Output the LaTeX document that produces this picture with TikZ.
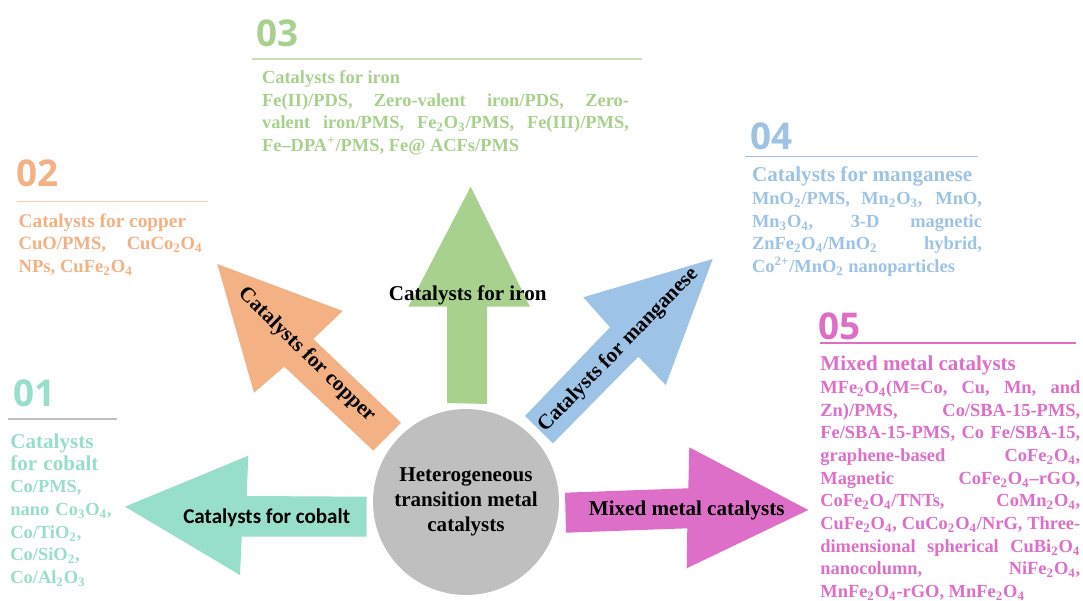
\documentclass[tikz,border=0pt]{standalone}
\usepackage{fontspec}
\setmainfont{Liberation Serif}
\newfontfamily\numfont{Open Sans}
\newfontfamily\labfont{Carlito}
\usepackage{tikz}
\usetikzlibrary{positioning}

\definecolor{cobalt}{HTML}{98DFCB}
\definecolor{copper}{HTML}{F4B183}
\definecolor{copperline}{HTML}{F8CBAD}
\definecolor{iron}{HTML}{A9D18E}
\definecolor{ironline}{HTML}{C5E0B4}
\definecolor{mangan}{HTML}{9DC3E6}
\definecolor{mixed}{HTML}{DD6FC8}
\definecolor{hubgray}{HTML}{BFBFBF}

\newcommand{\ssub}[1]{\textsubscript{#1}}

\begin{document}
\begin{tikzpicture}[
    x=0.02cm, y=-0.02cm,
    font=\bfseries,
    num/.style={
		anchor=base west,
		inner sep=0pt,
		font=\numfont\bfseries\fontsize{21}{21}\selectfont
	},
	info/.style={
		anchor=north west,
		inner sep=0pt,
		align=justify,
		font=\bfseries\fontsize{10.5}{12.9}\selectfont
	},
	arrowlabel/.style={
		inner sep=0pt,
		font=\bfseries\fontsize{12}{14}\selectfont
	},
	rule/.style={
		line width=0.8pt
	}
  ]
  \useasboundingbox (0,0) rectangle (1083,601);
  \fill [white] (0,0) rectangle (1083,601);

    % We start by placing the arrows
  \fill [cobalt] (366.7,496.7) -- (246.7,496) -- (248.3,455.7) -- (125,506.7)
    -- (240,575) -- (241.7,536.7) -- (366.7,536.7) -- cycle;
  \fill [copper] (373.3,450.7) -- (401,422.7) -- (313.3,339) -- (342.7,311)
    -- (217.3,264) -- (254,392.7) -- (284.3,366.7) -- cycle;
  \fill [iron] (447,403) -- (447,306.7) -- (408.3,306.7) -- (470.7,186.7)
    -- (530,306.7) -- (487,306.7) -- (487,404) -- cycle;
  \fill [mangan] (525,416) -- (610,327.3) -- (583.3,297.3) -- (712.7,259)
    -- (665.7,385) -- (638.3,356.7) -- (553,443.3) -- cycle;
  \fill [mixed] (565,492.7) -- (688.3,488.3) -- (689.3,447.3) -- (808.3,510)
    -- (686.7,568.3) -- (687.3,528.3) -- (566,532.7) -- cycle;

  \node [circle, fill=hubgray, minimum size=3.72cm, inner sep=0pt, align=center,
    font=\bfseries\fontsize{12}{14.2}\selectfont] (hub) at (466,502)
 {Heterogeneous\\transition metal\\catalysts};

  \node [arrowlabel, font=\labfont\bfseries\fontsize{12}{14}\selectfont] (lcobalt) at (266.7,517.3) {Catalysts for cobalt};
  \node [arrowlabel, rotate=-44.3] (lcopper) at (306.7,355) {Catalysts for copper};
  \node [arrowlabel] (liron) at (467.7,295) {Catalysts for iron};
  \node [arrowlabel, rotate=45.9] (lmangan) at (618.3,350) {Catalysts for manganese};
  \node [arrowlabel] (lmixed) at (686.7,510.7) {Mixed metal catalysts};

    % numbers, rules and lists
  \node [num, text=cobalt] (n01) at (13,407) {01};
  \draw [rule, hubgray] (8,419) -- (117,419);
  \node [info, text=cobalt, text width=2.4cm, align=left] (t01) at (10,433.3)
 {\fontsize{12}{12.5}\selectfont Catalysts\\for cobalt\par
  \fontsize{10.5}{12.9}\selectfont Co/PMS,\\nano Co\ssub{3}O\ssub{4},\\Co/TiO\ssub{2},\\Co/SiO\ssub{2},\\Co/Al\ssub{2}O\ssub{3}};

  \node [num, text=copper] (n02) at (16.5,187) {02};
  \draw [rule, copperline] (16.7,201.7) -- (208.3,201.7);
  \node [info, text=copper, text width=3.68cm] (t02) at (18.3,213.3)
 {\fontsize{11}{13.6}\selectfont Catalysts for copper\par
  \fontsize{10.6}{13.6}\selectfont CuO/PMS, CuCo\ssub{2}O\ssub{4}\linebreak
  NPs, CuFe\ssub{2}O\ssub{4}};

  \node [num, text=iron] (n03) at (256.5,47) {03};
  \draw [rule, ironline] (251.7,59) -- (641.7,59);
  \node [info, text=iron, text width=7.34cm] (t03) at (261.7,70)
 {\fontsize{10.5}{12.6}\selectfont Catalysts for iron\\
  Fe(II)/PDS, Zero-valent iron/PDS, Zero-\linebreak
  valent iron/PMS, Fe\ssub{2}O\ssub{3}/PMS, Fe(III)/PMS,\linebreak
  Fe--DPA\textsuperscript{+}/PMS, Fe@ ACFs/PMS};

  \node [num, text=mangan] (n04) at (750,150) {04};
  \draw [rule, mangan] (745,156.7) -- (978,156.7);
  \node [info, text=mangan, text width=4.6cm] (t04) at (751.7,166.7)
 {\fontsize{12}{13}\selectfont Catalysts for manganese\par
  \fontsize{10.5}{12.6}\selectfont MnO\ssub{2}/PMS, Mn\ssub{2}O\ssub{3}, MnO,\linebreak
  Mn\ssub{3}O\ssub{4}, 3-D magnetic\linebreak
  ZnFe\ssub{2}O\ssub{4}/MnO\ssub{2} hybrid,\linebreak
  Co\textsuperscript{2+}/MnO\ssub{2} nanoparticles};

  \node [num, text=mixed] (n05) at (818,340) {05};
  \draw [rule, mixed] (820,343) -- (1076,343);
  \node [info, text=mixed, text width=5.2cm] (t05) at (820,356)
 {\fontsize{12}{13}\selectfont Mixed metal catalysts\par
  \fontsize{10.5}{12.9}\selectfont MFe\ssub{2}O\ssub{4}(M=Co, Cu, Mn, and\linebreak
  Zn)/PMS, Co/SBA-15-PMS,\linebreak
  Fe/SBA-15-PMS, Co Fe/SBA-15,\linebreak
  graphene-based CoFe\ssub{2}O\ssub{4},\linebreak
  Magnetic CoFe\ssub{2}O\ssub{4}--rGO,\linebreak
  CoFe\ssub{2}O\ssub{4}/TNTs, CoMn\ssub{2}O\ssub{4},\linebreak
  CuFe\ssub{2}O\ssub{4}, CuCo\ssub{2}O\ssub{4}/NrG, Three-\linebreak
  dimensional spherical CuBi\ssub{2}O\ssub{4}\linebreak
  nanocolumn, NiFe\ssub{2}O\ssub{4},\linebreak
  MnFe\ssub{2}O\ssub{4}-rGO, MnFe\ssub{2}O\ssub{4}};

\end{tikzpicture}
\end{document}
